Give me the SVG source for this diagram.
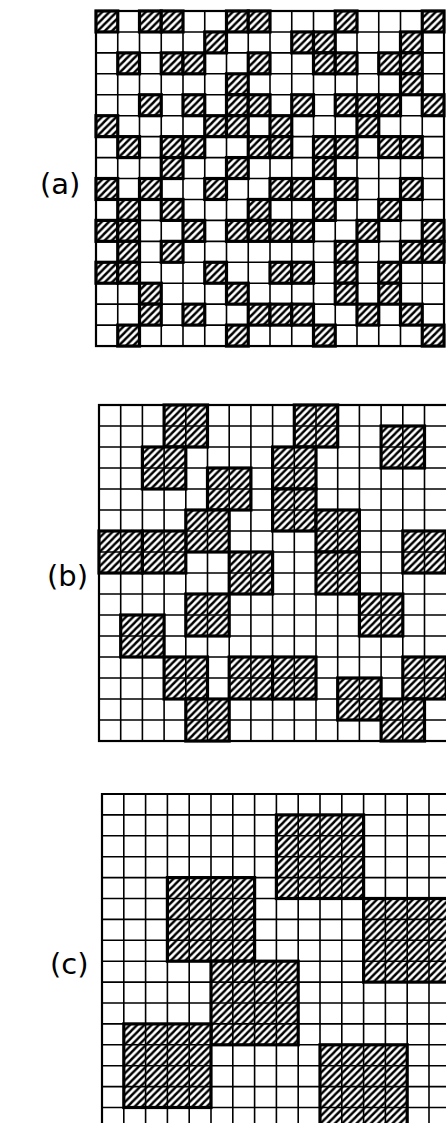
<svg xmlns="http://www.w3.org/2000/svg" xmlns:xlink="http://www.w3.org/1999/xlink" width="446" height="1123" viewBox="0 0 446 1123">
<style>
.lbl{font-family:"DejaVu Sans","Liberation Sans",sans-serif;font-size:29px;fill:#000}
.grid{fill:none;stroke:#000;stroke-width:1.6}
.border{fill:none;stroke:#000;stroke-width:2.2}
.h{fill:url(#hatch);stroke:#000;stroke-width:3.2}
.in{fill:none;stroke:#000;stroke-width:1.6}
</style>
<defs>
<pattern id="hatch" patternUnits="userSpaceOnUse" width="7.2" height="7.2">
<rect width="7.2" height="7.2" fill="#fff"/>
<path d="M-1,1 L1,-1 M0,7.2 L7.2,0 M6.2,8.2 L8.2,6.2" stroke="#000" stroke-width="2.4"/>
</pattern>
<rect id="ca" width="21.75" height="20.94" class="h"/>
<g id="cb">
<rect width="43.4" height="42" class="h"/>
<path d="M21.7,0 V42 M0,21 H43.4" class="in"/>
</g>
<g id="cc">
<rect width="87.2" height="83.6" class="h"/>
<path d="M21.8,0 V83.6 M43.6,0 V83.6 M65.4,0 V83.6 M0,20.9 H87.2 M0,41.8 H87.2 M0,62.7 H87.2" class="in"/>
</g>
</defs>
<rect width="446" height="1123" fill="#fff"/>

<text id="label-a" class="lbl" x="40" y="194">(a)</text>
<text id="label-b" class="lbl" x="47" y="586">(b)</text>
<text id="label-c" class="lbl" x="50" y="974">(c)</text>

<g id="panel-a" transform="translate(96,11)">
<path class="grid" d="M21.75,0V335.04M43.5,0V335.04M65.25,0V335.04M87,0V335.04M108.75,0V335.04M130.5,0V335.04M152.25,0V335.04M174,0V335.04M195.75,0V335.04M217.5,0V335.04M239.25,0V335.04M261,0V335.04M282.75,0V335.04M304.5,0V335.04M326.25,0V335.04
M0,20.94H348M0,41.88H348M0,62.82H348M0,83.76H348M0,104.7H348M0,125.64H348M0,146.58H348M0,167.52H348M0,188.46H348M0,209.4H348M0,230.34H348M0,251.28H348M0,272.22H348M0,293.16H348M0,314.1H348"/>
<rect class="border" x="0" y="0" width="348" height="335.04"/>
<g id="cells-a">
<use xlink:href="#ca" x="0" y="0"/><use xlink:href="#ca" x="43.5" y="0"/><use xlink:href="#ca" x="65.25" y="0"/><use xlink:href="#ca" x="130.5" y="0"/><use xlink:href="#ca" x="152.25" y="0"/><use xlink:href="#ca" x="239.25" y="0"/><use xlink:href="#ca" x="326.25" y="0"/>
<use xlink:href="#ca" x="108.75" y="20.94"/><use xlink:href="#ca" x="195.75" y="20.94"/><use xlink:href="#ca" x="217.5" y="20.94"/><use xlink:href="#ca" x="304.5" y="20.94"/>
<use xlink:href="#ca" x="21.75" y="41.88"/><use xlink:href="#ca" x="65.25" y="41.88"/><use xlink:href="#ca" x="87" y="41.88"/><use xlink:href="#ca" x="152.25" y="41.88"/><use xlink:href="#ca" x="217.5" y="41.88"/><use xlink:href="#ca" x="239.25" y="41.88"/><use xlink:href="#ca" x="282.75" y="41.88"/><use xlink:href="#ca" x="304.5" y="41.88"/>
<use xlink:href="#ca" x="130.5" y="62.82"/><use xlink:href="#ca" x="304.5" y="62.82"/>
<use xlink:href="#ca" x="43.5" y="83.76"/><use xlink:href="#ca" x="87" y="83.76"/><use xlink:href="#ca" x="130.5" y="83.76"/><use xlink:href="#ca" x="152.25" y="83.76"/><use xlink:href="#ca" x="195.75" y="83.76"/><use xlink:href="#ca" x="239.25" y="83.76"/><use xlink:href="#ca" x="261" y="83.76"/><use xlink:href="#ca" x="282.75" y="83.76"/><use xlink:href="#ca" x="326.25" y="83.76"/>
<use xlink:href="#ca" x="0" y="104.7"/><use xlink:href="#ca" x="108.75" y="104.7"/><use xlink:href="#ca" x="130.5" y="104.7"/><use xlink:href="#ca" x="174" y="104.7"/><use xlink:href="#ca" x="261" y="104.7"/>
<use xlink:href="#ca" x="21.75" y="125.64"/><use xlink:href="#ca" x="65.25" y="125.64"/><use xlink:href="#ca" x="87" y="125.64"/><use xlink:href="#ca" x="152.25" y="125.64"/><use xlink:href="#ca" x="174" y="125.64"/><use xlink:href="#ca" x="217.5" y="125.64"/><use xlink:href="#ca" x="239.25" y="125.64"/><use xlink:href="#ca" x="282.75" y="125.64"/><use xlink:href="#ca" x="304.5" y="125.64"/>
<use xlink:href="#ca" x="65.25" y="146.58"/><use xlink:href="#ca" x="130.5" y="146.58"/><use xlink:href="#ca" x="217.5" y="146.58"/>
<use xlink:href="#ca" x="0" y="167.52"/><use xlink:href="#ca" x="43.5" y="167.52"/><use xlink:href="#ca" x="108.75" y="167.52"/><use xlink:href="#ca" x="174" y="167.52"/><use xlink:href="#ca" x="195.75" y="167.52"/><use xlink:href="#ca" x="239.25" y="167.52"/><use xlink:href="#ca" x="304.5" y="167.52"/>
<use xlink:href="#ca" x="21.75" y="188.46"/><use xlink:href="#ca" x="65.25" y="188.46"/><use xlink:href="#ca" x="152.25" y="188.46"/><use xlink:href="#ca" x="217.5" y="188.46"/><use xlink:href="#ca" x="282.75" y="188.46"/>
<use xlink:href="#ca" x="0" y="209.4"/><use xlink:href="#ca" x="21.75" y="209.4"/><use xlink:href="#ca" x="87" y="209.4"/><use xlink:href="#ca" x="130.5" y="209.4"/><use xlink:href="#ca" x="152.25" y="209.4"/><use xlink:href="#ca" x="174" y="209.4"/><use xlink:href="#ca" x="195.75" y="209.4"/><use xlink:href="#ca" x="261" y="209.4"/><use xlink:href="#ca" x="326.25" y="209.4"/>
<use xlink:href="#ca" x="21.75" y="230.34"/><use xlink:href="#ca" x="65.25" y="230.34"/><use xlink:href="#ca" x="239.25" y="230.34"/><use xlink:href="#ca" x="304.5" y="230.34"/><use xlink:href="#ca" x="326.25" y="230.34"/>
<use xlink:href="#ca" x="0" y="251.28"/><use xlink:href="#ca" x="21.75" y="251.28"/><use xlink:href="#ca" x="108.75" y="251.28"/><use xlink:href="#ca" x="174" y="251.28"/><use xlink:href="#ca" x="195.75" y="251.28"/><use xlink:href="#ca" x="239.25" y="251.28"/><use xlink:href="#ca" x="282.75" y="251.28"/>
<use xlink:href="#ca" x="43.5" y="272.22"/><use xlink:href="#ca" x="130.5" y="272.22"/><use xlink:href="#ca" x="239.25" y="272.22"/><use xlink:href="#ca" x="282.75" y="272.22"/>
<use xlink:href="#ca" x="43.5" y="293.16"/><use xlink:href="#ca" x="87" y="293.16"/><use xlink:href="#ca" x="152.25" y="293.16"/><use xlink:href="#ca" x="174" y="293.16"/><use xlink:href="#ca" x="195.75" y="293.16"/><use xlink:href="#ca" x="261" y="293.16"/><use xlink:href="#ca" x="304.5" y="293.16"/>
<use xlink:href="#ca" x="21.75" y="314.1"/><use xlink:href="#ca" x="130.5" y="314.1"/><use xlink:href="#ca" x="217.5" y="314.1"/><use xlink:href="#ca" x="326.25" y="314.1"/>
</g>
</g>

<g id="panel-b" transform="translate(99,405)">
<path class="grid" d="M21.7,0V336M43.4,0V336M65.1,0V336M86.8,0V336M108.5,0V336M130.2,0V336M151.9,0V336M173.6,0V336M195.3,0V336M217,0V336M238.7,0V336M260.4,0V336M282.1,0V336M303.8,0V336M325.5,0V336
M0,21H350M0,42H350M0,63H350M0,84H350M0,105H350M0,126H350M0,147H350M0,168H350M0,189H350M0,210H350M0,231H350M0,252H350M0,273H350M0,294H350M0,315H350"/>
<rect class="border" x="0" y="0" width="352" height="336"/>
<g id="blocks-b">
<use xlink:href="#cb" x="65.1" y="0"/><use xlink:href="#cb" x="195.3" y="0"/><use xlink:href="#cb" x="282.1" y="21"/><use xlink:href="#cb" x="43.4" y="42"/><use xlink:href="#cb" x="173.6" y="42"/><use xlink:href="#cb" x="108.5" y="63"/><use xlink:href="#cb" x="173.6" y="84"/><use xlink:href="#cb" x="86.8" y="105"/><use xlink:href="#cb" x="217" y="105"/><use xlink:href="#cb" x="0" y="126"/><use xlink:href="#cb" x="43.4" y="126"/><use xlink:href="#cb" x="303.8" y="126"/><use xlink:href="#cb" x="130.2" y="147"/><use xlink:href="#cb" x="217" y="147"/><use xlink:href="#cb" x="86.8" y="189"/><use xlink:href="#cb" x="260.4" y="189"/><use xlink:href="#cb" x="21.7" y="210"/><use xlink:href="#cb" x="65.1" y="252"/><use xlink:href="#cb" x="130.2" y="252"/><use xlink:href="#cb" x="173.6" y="252"/><use xlink:href="#cb" x="303.8" y="252"/><use xlink:href="#cb" x="238.7" y="273"/><use xlink:href="#cb" x="86.8" y="294"/><use xlink:href="#cb" x="282.1" y="294"/>
</g>
</g>

<g id="panel-c" transform="translate(102,794)">
<path class="grid" d="M21.8,0V340M43.6,0V340M65.4,0V340M87.2,0V340M109,0V340M130.8,0V340M152.6,0V340M174.4,0V340M196.2,0V340M218,0V340M239.8,0V340M261.6,0V340M283.4,0V340M305.2,0V340M327,0V340
M0,20.9H350M0,41.8H350M0,62.7H350M0,83.6H350M0,104.5H350M0,125.4H350M0,146.3H350M0,167.2H350M0,188.1H350M0,209H350M0,229.9H350M0,250.8H350M0,271.7H350M0,292.6H350M0,313.5H350"/>
<path class="border" d="M350,0H0V340"/>
<g id="blocks-c">
<use xlink:href="#cc" x="65.4" y="83.6"/><use xlink:href="#cc" x="174.4" y="20.9"/><use xlink:href="#cc" x="261.6" y="104.5"/><use xlink:href="#cc" x="109" y="167.2"/><use xlink:href="#cc" x="21.8" y="229.9"/><use xlink:href="#cc" x="218" y="250.8"/>
</g>
</g>
</svg>
